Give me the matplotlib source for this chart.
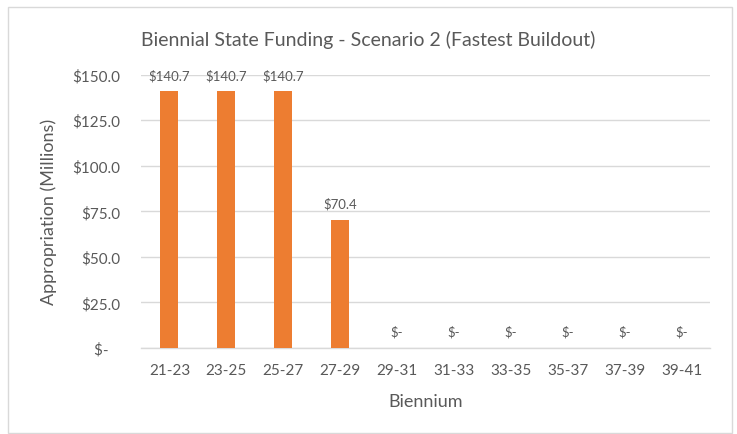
''' Biennial state funding bar chart '''
import matplotlib.pyplot as plt
from matplotlib.patches import Rectangle

plt.rcParams['font.family'] = ['Lato', 'DejaVu Sans']

# data
biennia = ['21-23', '23-25', '25-27', '27-29', '29-31',
           '31-33', '33-35', '35-37', '37-39', '39-41']
funding = [140.7, 140.7, 140.7, 70.4, 0, 0, 0, 0, 0, 0]
yticks = [0, 25, 50, 75, 100, 125, 150]

text_color = '#595959'
grid_color = '#D9D9D9'
bar_color = '#ED7D31'

fig = plt.figure(figsize=(7.37, 4.35), dpi=100)
ax = fig.add_axes([0.1913, 0.1977, 0.772, 0.6287])

x = range(len(biennia))
ax.bar(x, funding, width=0.315, color=bar_color, zorder=3)

# data labels
for xi, v in zip(x, funding):
    label = f'${v:.1f}' if v else '$-'
    ax.annotate(label, (xi, v), xytext=(0, 12), textcoords='offset points',
                ha='center', va='center', fontsize=9.5, color=text_color)

ax.set_xlim(-0.5, len(biennia) - 0.5)
ax.set_ylim(0, 150)
ax.set_yticks(yticks)
ax.set_yticklabels([f'${t:.1f}' if t else '$-   ' for t in yticks])
ax.set_xticks(list(x))
ax.set_xticklabels(biennia)

ax.grid(axis='y', color=grid_color, linewidth=1, zorder=0)
for s in ['top', 'right', 'left']:
    ax.spines[s].set_visible(False)
ax.spines['bottom'].set_color(grid_color)
ax.spines['bottom'].set_linewidth(1)

ax.tick_params(axis='both', length=0, colors=text_color, labelsize=11)
ax.tick_params(axis='y', pad=15)
ax.tick_params(axis='x', pad=11)

ax.set_xlabel('Biennium', fontsize=13, color=text_color, va='center')
ax.set_ylabel('Appropriation (Millions)', fontsize=13, color=text_color, va='center')
ax.xaxis.set_label_coords(0.5, -0.194)
ax.yaxis.set_label_coords(-0.163, 0.5)

fig.text(0.5, 0.908, 'Biennial State Funding - Scenario 2 (Fastest Buildout)',
         ha='center', va='center', fontsize=14, color=text_color)

# chart border
fig.patches.append(Rectangle((0.011, 0.003), 0.982, 0.979, transform=fig.transFigure,
                             fill=False, edgecolor=grid_color, linewidth=1))

fig.savefig('out.png', dpi=100)
